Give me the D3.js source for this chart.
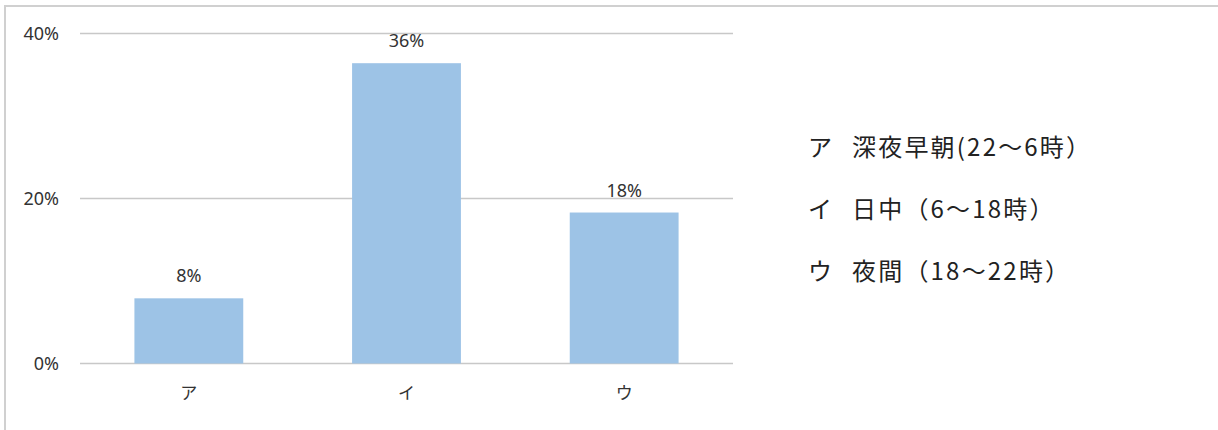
<!DOCTYPE html>
<html>
<head>
<meta charset="utf-8">
<script src="https://cdn.jsdelivr.net/npm/d3@7"></script>
<style>
  body { margin: 0; background: #fff; }
  text { font-family: "Noto Sans", "Noto Sans CJK JP", sans-serif; }
</style>
</head>
<body>
<div class="container"></div>
<script>
const WIDTH = 1218;
const HEIGHT = 430;

// values
var categories = ["ア", "イ", "ウ"];
var values = [7.9, 36.4, 18.3];
var barLabels = ["8%", "36%", "18%"];
var yTicks = [0, 20, 40];
var legendKeys = ["ア", "イ", "ウ"];
var legendNames = ["深夜早朝(22～6時）", "日中（6～18時）", "夜間（18～22時）"];

var svg = d3.select(".container")
    .append("svg")
    .attr("width", WIDTH)
    .attr("height", HEIGHT);

// outer frame (top and left edges visible)
svg.append("path")
    .attr("d", "M5,430V6H1218")
    .attr("fill", "none")
    .attr("stroke", "#d0d0d0")
    .attr("stroke-width", 2);

var x = d3.scaleBand().domain(categories).range([80, 733]).paddingInner(0.5).paddingOuter(0.25);
var y = d3.scaleLinear().domain([0, 40]).range([363.5, 33.5]);

// gridlines
svg.selectAll("line.grid")
    .data(yTicks)
    .enter().append("line")
    .attr("class", "grid")
    .attr("x1", 80)
    .attr("x2", 733)
    .attr("y1", function(d){ return y(d); })
    .attr("y2", function(d){ return y(d); })
    .attr("stroke", "#c8c8c8")
    .attr("stroke-width", 1.5);

// y tick labels
svg.selectAll("text.ytick")
    .data(yTicks)
    .enter().append("text")
    .attr("class", "ytick")
    .attr("x", 59)
    .attr("y", function(d){ return y(d); })
    .attr("dy", "0.35em")
    .attr("text-anchor", "end")
    .attr("font-size", 18)
    .attr("fill", "#333")
    .text(function(d){ return d + "%"; });

// bars
svg.selectAll("rect.bar")
    .data(values)
    .enter().append("rect")
    .attr("class", "bar")
    .attr("x", function(d, i){ return x(categories[i]); })
    .attr("y", function(d){ return y(d); })
    .attr("width", x.bandwidth())
    .attr("height", function(d){ return y(0) - y(d); })
    .attr("fill", "#9dc3e6");

// value labels
svg.selectAll("text.val")
    .data(values)
    .enter().append("text")
    .attr("class", "val")
    .attr("x", function(d, i){ return x(categories[i]) + x.bandwidth() / 2; })
    .attr("y", function(d){ return y(d) - 16; })
    .attr("text-anchor", "middle")
    .attr("font-size", 18)
    .attr("fill", "#333")
    .text(function(d, i){ return barLabels[i]; });

// x category labels
svg.selectAll("text.cat")
    .data(categories)
    .enter().append("text")
    .attr("class", "cat")
    .attr("x", function(d){ return x(d) + x.bandwidth() / 2; })
    .attr("y", 393)
    .attr("dy", "0.35em")
    .attr("text-anchor", "middle")
    .attr("font-size", 17)
    .attr("fill", "#333")
    .style("font-family", "'Noto Sans CJK JP', sans-serif")
    .text(function(d){ return d; });

// legend text block
var leg = svg.selectAll("g.legend")
    .data(legendKeys)
    .enter().append("g")
    .attr("class", "legend")
    .attr("transform", function(d, i){ return "translate(0," + (148 + i * 62) + ")"; });

leg.append("text")
    .attr("x", 808)
    .attr("dy", "0.35em")
    .attr("font-size", 24)
    .attr("fill", "#222")
    .style("font-family", "'Noto Sans CJK JP', sans-serif")
    .text(function(d){ return d; });

leg.append("text")
    .attr("x", 852)
    .attr("dy", "0.35em")
    .attr("font-size", 24)
    .attr("letter-spacing", 2.2)
    .attr("fill", "#222")
    .style("font-family", "'Noto Sans CJK JP', sans-serif")
    .text(function(d, i){ return legendNames[i]; });
</script>
</body>
</html>
